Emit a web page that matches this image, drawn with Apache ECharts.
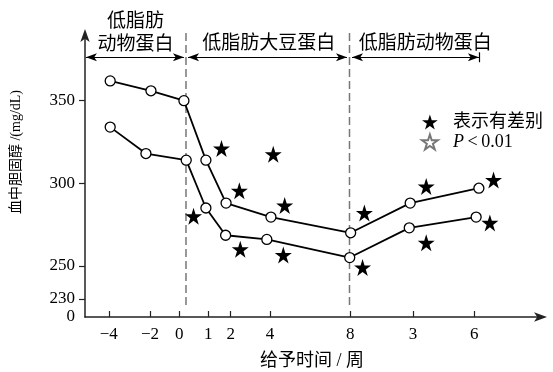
<!DOCTYPE html>
<html>
<head>
<meta charset="utf-8">
<script src="https://cdn.jsdelivr.net/npm/echarts@6/dist/echarts.min.js"></script>
<style>
  html, body { margin: 0; padding: 0; background: #fff; }
  #chart { width: 553px; height: 372px; }
</style>
</head>
<body>
<div id="chart"></div>
<script>
// Schematic time axis (0..100): ticks are not evenly spaced in weeks
const tickLabels = ['\u22124', '\u22122', '0', '1', '2', '4', '8', '3', '6'];
const tickPos = [5.2, 14.2, 20.6, 26.9, 31.8, 40.4, 57.9, 71.6, 85.0];

// Serum cholesterol (mg/dL), two groups
const upperX = [5.5, 14.4, 21.6, 26.4, 30.8, 40.6, 58.0, 71.0, 86.0];
const upperY = [362, 356, 350, 314, 288, 279.5, 270, 288, 297];
const lowerX = [5.5, 13.3, 22.1, 26.4, 30.7, 39.7, 57.8, 70.8, 85.4];
const lowerY = [334, 318, 314, 285, 268.5, 266, 255, 273, 279.5];

// Significance markers
const starX = [23.7, 29.8, 33.7, 33.9, 41.1, 43.6, 43.3, 61.0, 60.6, 74.5, 74.5, 89.2, 88.4];
const starY = [280, 321, 295.5, 260, 317.5, 286.5, 256.5, 282, 249, 298, 264, 302, 276];

// Diet phases
const phaseBounds = [22.05, 57.75];
const phaseSpans = [[0.2, 21.6], [22.5, 57.2], [58.3, 86.0]];
const phaseNames = [['低脂肪', '动物蛋白'], ['低脂肪大豆蛋白'], ['低脂肪动物蛋白']];
const phaseLabelX = [11.0, 40.1, 74.3];

// Value axis
const yMin = 219, yMax = 391;
const yTicks = [230, 250, 300, 350];
const phaseArrowY = 376.3;

const FONT = "'Liberation Serif','Noto Sans CJK SC'";
const CJK = "'Noto Sans CJK SC'";
const STAR = 'path://M50,0 L61.2,34.5 L97.6,34.5 L68.2,55.9 L79.4,90.5 L50,69.1 L20.6,90.5 L31.8,55.9 L2.4,34.5 L38.8,34.5 Z';

const zip = (xs, ys) => xs.map((x, i) => [x, ys[i]]);

const chart = echarts.init(document.getElementById('chart'), null, { renderer: 'canvas' });

const dashedSeries = phaseBounds.map(x => ({
  type: 'line',
  data: [[x, 226.3], [x, yMax]],
  symbol: 'none',
  silent: true,
  lineStyle: { color: '#777', width: 1.5, type: [8, 4] },
  z: 1
}));

const arrowLines = phaseSpans.map(s => [
  { coord: [s[0], phaseArrowY] },
  { coord: [s[1], phaseArrowY] }
]);

const option = {
  animation: false,
  backgroundColor: '#fff',
  grid: { left: 85, right: 10, top: 33, bottom: 55, containLabel: false },
  xAxis: {
    type: 'value',
    min: 0,
    max: 100,
    axisLine: {
      show: true,
      lineStyle: { color: '#222', width: 1.5 },
      symbol: ['none', 'arrow'],
      symbolSize: [7, 13],
      symbolOffset: [0, 4]
    },
    axisTick: {
      show: true,
      inside: true,
      length: 6,
      customValues: tickPos,
      lineStyle: { color: '#222', width: 1.2 }
    },
    axisLabel: {
      show: true,
      customValues: tickPos,
      margin: 9,
      color: '#000',
      fontFamily: FONT,
      fontSize: 17,
      formatter: v => {
        const i = tickPos.findIndex(p => Math.abs(p - v) < 1e-6);
        return i >= 0 ? tickLabels[i] : '';
      }
    },
    splitLine: { show: false }
  },
  yAxis: {
    type: 'value',
    min: yMin,
    max: yMax,
    axisLine: {
      show: true,
      lineStyle: { color: '#222', width: 1.5 },
      symbol: ['none', 'arrow'],
      symbolSize: [7, 13],
      symbolOffset: [0, 4]
    },
    axisTick: {
      show: true,
      inside: false,
      length: 6,
      customValues: yTicks,
      lineStyle: { color: '#222', width: 1.2 }
    },
    axisLabel: {
      show: true,
      customValues: [yMin].concat(yTicks),
      margin: 10,
      color: '#000',
      fontFamily: FONT,
      fontSize: 17,
      formatter: v => (v === yMin ? '0' : String(v))
    },
    splitLine: { show: false }
  },
  legend: {
    orient: 'vertical',
    left: 416,
    top: 108,
    itemWidth: 36,
    itemHeight: 15,
    itemGap: 2,
    selectedMode: false,
    data: ['表示有差别', 'P<0.01'],
    textStyle: {
      color: '#000',
      fontFamily: FONT,
      fontSize: 18,
      lineHeight: 18,
      rich: {
        i: { fontStyle: 'italic', fontFamily: FONT, fontSize: 18, color: '#000' },
        n: { fontFamily: FONT, fontSize: 18, color: '#000' }
      }
    },
    formatter: name => (name === 'P<0.01' ? '{i|P}{n|\u2009<\u20090.01}' : name)
  },
  series: [
    ...dashedSeries,
    {
      type: 'line',
      name: 'upper',
      data: zip(upperX, upperY),
      symbol: 'circle',
      symbolSize: 10,
      lineStyle: { color: '#000', width: 1.8 },
      itemStyle: { color: '#fff', borderColor: '#000', borderWidth: 1.3 },
      z: 3
    },
    {
      type: 'line',
      name: 'lower',
      data: zip(lowerX, lowerY),
      symbol: 'circle',
      symbolSize: 10,
      lineStyle: { color: '#000', width: 1.8 },
      itemStyle: { color: '#fff', borderColor: '#000', borderWidth: 1.3 },
      z: 3
    },
    {
      type: 'scatter',
      name: '表示有差别',
      data: zip(starX, starY),
      symbol: STAR,
      symbolSize: 17,
      itemStyle: { color: '#000', opacity: 1 },
      z: 4
    },
    {
      type: 'scatter',
      name: 'P<0.01',
      data: [],
      symbol: STAR,
      symbolSize: 15,
      itemStyle: { color: '#fff', borderColor: '#777', borderWidth: 0.6, opacity: 1 }
    },
    {
      // phase arrows along the top
      type: 'line',
      data: [],
      silent: true,
      markLine: {
        silent: true,
        symbol: ['arrow', 'arrow'],
        symbolSize: [6, 11],
        label: { show: false },
        lineStyle: { color: '#000', width: 1.2, type: 'solid' },
        data: arrowLines.concat([[
          { coord: [phaseSpans[2][1], phaseArrowY - 3], symbol: 'none' },
          { coord: [phaseSpans[2][1], phaseArrowY + 3], symbol: 'none' }
        ]])
      }
    }
  ]
};

chart.setOption(option);

// Phase captions and axis titles
function px(x, y) { return chart.convertToPixel({ gridIndex: 0 }, [x, y]); }
const graphics = [];
phaseNames.forEach((lines, i) => {
  const lineY = lines.length === 2 ? [399.1, 385.2] : [385.8];
  lines.forEach((t, j) => {
    const p = px(phaseLabelX[i], lineY[j]);
    graphics.push({
      type: 'text', x: p[0], y: p[1],
      style: { text: t, fill: '#000', font: '19px ' + CJK, align: 'center', verticalAlign: 'middle' }
    });
  });
});
graphics.push({
  type: 'text', x: 312, y: 361,
  style: { text: '给予时间 / 周', fill: '#000', font: '18px ' + FONT, align: 'center', verticalAlign: 'middle' }
});
graphics.push({
  type: 'text', x: 16, y: 152, rotation: Math.PI / 2,
  style: { text: '血中胆固醇 /(mg/dL)', fill: '#000', font: '14px ' + FONT, align: 'center', verticalAlign: 'middle' }
});
chart.setOption({ graphic: graphics });
</script>
</body>
</html>
